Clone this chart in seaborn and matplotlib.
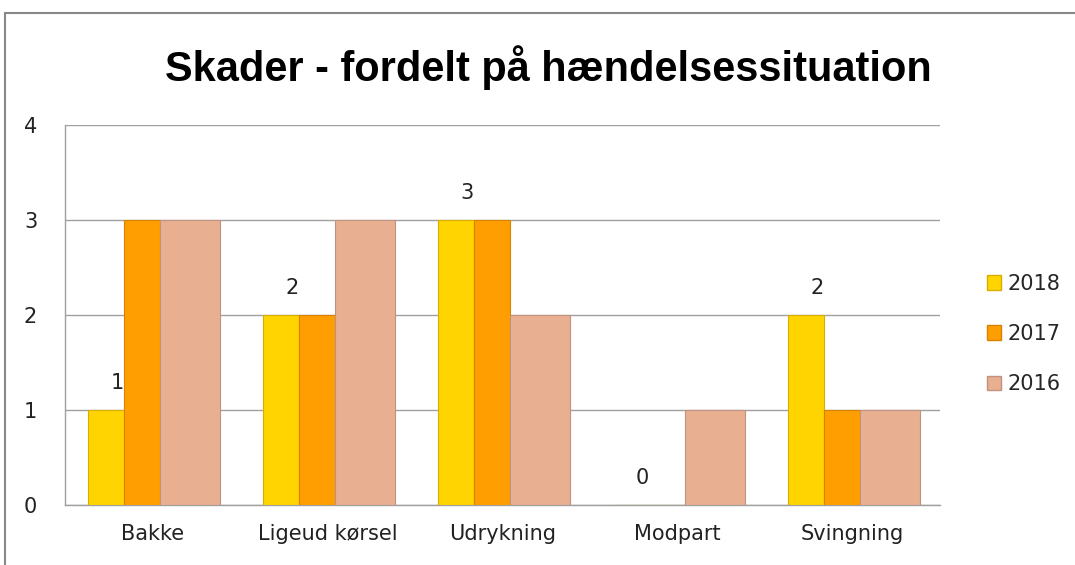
import matplotlib
matplotlib.use("Agg")
import matplotlib.pyplot as plt
import seaborn as sns
import pandas as pd
from matplotlib.patches import Rectangle, Patch

categories = ["Bakke", "Ligeud kørsel", "Udrykning", "Modpart", "Svingning"]
years = ["2018", "2017", "2016"]
v2018 = [1, 2, 3, 0, 2]
v2017 = [3, 2, 3, 0, 1]
v2016 = [3, 3, 2, 1, 1]
yticks = [0, 1, 2, 3, 4]
title = "Skader - fordelt på hændelsessituation"

colors = {"2018": "#FFD400", "2017": "#FF9E00", "2016": "#E9AF91"}
edges = {"2018": "#D8AE00", "2017": "#D88300", "2016": "#C09280"}

rows = []
for y, vals in zip(years, [v2018, v2017, v2016]):
    for c, v in zip(categories, vals):
        rows.append({"cat": c, "year": y, "val": v})
df = pd.DataFrame(rows)

sns.set_style("white")
plt.rcParams["font.family"] = ["DejaVu Sans"]

fig = plt.figure(figsize=(10.75, 5.65), dpi=100)
ax = fig.add_axes([65 / 1075, 60 / 565, 875 / 1075, 380 / 565])

sns.barplot(data=df, x="cat", y="val", hue="year", order=categories,
            hue_order=years, palette=colors, ax=ax, legend=False,
            errorbar=None, saturation=1)

# bar geometry: (left offset, width) in category units
geom = {"2018": (-0.369, 0.206), "2017": (-0.163, 0.206), "2016": (0.043, 0.343)}
for cont, y in zip(ax.containers, years):
    off, w = geom[y]
    for i, bar in enumerate(cont):
        bar.set_x(i + off)
        bar.set_width(w)
        bar.set_edgecolor(edges[y])
        bar.set_linewidth(0.8)
        bar.set_zorder(3)

# data labels for 2018
for i, v in enumerate(v2018):
    ax.text(i - 0.266 + 0.065, v + 0.18, str(v), ha="center", va="bottom",
            fontsize=15, color="#222222")

ax.set_xlim(-0.5, 4.5)
ax.set_ylim(0, 4)
ax.set_yticks(yticks)
ax.set_yticklabels([str(t) for t in yticks])
ax.set_xlabel("")
ax.set_ylabel("")
ax.grid(axis="y", color="#A0A0A0", linewidth=1, zorder=0)
ax.set_axisbelow(True)
for s in ["top", "right"]:
    ax.spines[s].set_visible(False)
for s in ["left", "bottom"]:
    ax.spines[s].set_color("#A0A0A0")
    ax.spines[s].set_linewidth(1)
ax.tick_params(axis="both", length=0, labelsize=15, colors="#222222")
ax.tick_params(axis="y", pad=20)
ax.tick_params(axis="x", pad=14)

handles = [Patch(facecolor=colors[y], edgecolor=edges[y], label=y) for y in years]
fig.legend(handles=handles, loc="center left", bbox_to_anchor=(968 / 1075, 1 - 334 / 565),
           frameon=False, fontsize=15, handlelength=0.7, handleheight=0.7,
           handletextpad=0.3, labelspacing=1.45)

t = fig.text(548 / 1075, 1 - 68 / 565, title, ha="center", va="center",
             fontsize=28, fontweight="bold", color="#000000",
             family=["Liberation Sans", "DejaVu Sans"])
fig.canvas.draw()
w = t.get_window_extent().width
t.set_fontsize(28 * 767 / w)

fig.patches.append(Rectangle((5 / 1075, -0.1), 1.2, 1 - 13 / 565 + 0.1,
                             transform=fig.transFigure, fill=False,
                             edgecolor="#888888", linewidth=1.5))

fig.savefig("out.png", dpi=100, facecolor="white")
